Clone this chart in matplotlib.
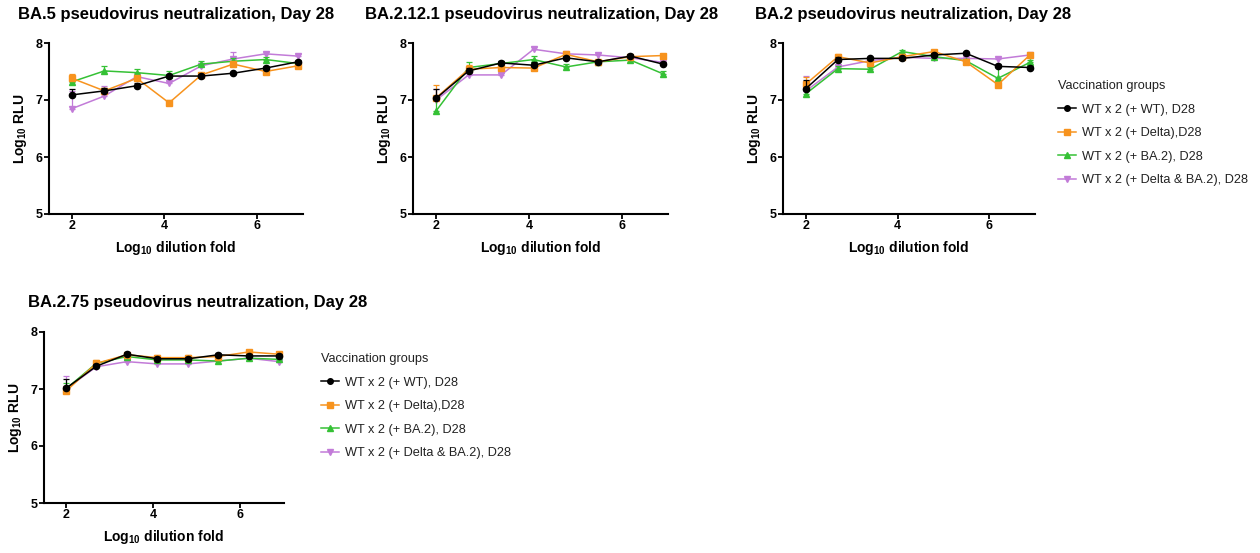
import matplotlib
matplotlib.use("Agg")
import matplotlib.pyplot as plt
from matplotlib.lines import Line2D
import numpy as np

plt.rcParams['font.family'] = ['Liberation Sans', 'DejaVu Sans']
plt.rcParams['mathtext.fontset'] = 'custom'
plt.rcParams['mathtext.rm'] = 'Liberation Sans'
plt.rcParams['mathtext.bf'] = 'Liberation Sans:bold'
plt.rcParams['mathtext.it'] = 'Liberation Sans:italic'

# dilution series (log10 fold), 5-fold steps from 1:100
dilution = [2.0, 2.7, 3.4, 4.1, 4.8, 5.49, 6.19, 6.89]

groups = ['WT x 2 (+ WT), D28', 'WT x 2 (+ Delta),D28',
          'WT x 2 (+ BA.2), D28', 'WT x 2 (+ Delta & BA.2), D28']
colors = ['#000000', '#F7931E', '#35C135', '#C27BD8']
markers = ['o', 's', '^', 'v']

# BA.5
ba5_wt = [7.09, 7.16, 7.25, 7.42, 7.42, 7.47, 7.56, 7.67]
ba5_delta = [7.38, 7.16, 7.38, 6.95, 7.44, 7.63, 7.50, 7.60]
ba5_ba2 = [7.32, 7.51, 7.48, 7.43, 7.63, 7.68, 7.71, 7.64]
ba5_delta_ba2 = [6.85, 7.07, 7.41, 7.29, 7.60, 7.72, 7.81, 7.77]
ba5_wt_err = [0.10, 0.05, 0.05, 0.04, 0.03, 0.03, 0.03, 0.03]
ba5_delta_err = [0.07, 0.05, 0.04, 0.05, 0.04, 0.04, 0.03, 0.03]
ba5_ba2_err = [0.05, 0.08, 0.06, 0.08, 0.05, 0.05, 0.04, 0.03]
ba5_delta_ba2_err = [0.30, 0.18, 0.05, 0.04, 0.05, 0.12, 0.04, 0.04]

# BA.2.12.1
ba2121_wt = [7.03, 7.51, 7.65, 7.61, 7.74, 7.67, 7.77, 7.63]
ba2121_delta = [7.04, 7.54, 7.57, 7.56, 7.80, 7.67, 7.76, 7.78]
ba2121_ba2 = [6.81, 7.57, 7.64, 7.71, 7.58, 7.67, 7.70, 7.46]
ba2121_delta_ba2 = [7.00, 7.44, 7.44, 7.89, 7.81, 7.79, 7.74, 7.66]
ba2121_wt_err = [0.17, 0.06, 0.04, 0.05, 0.04, 0.03, 0.04, 0.04]
ba2121_delta_err = [0.22, 0.08, 0.04, 0.04, 0.04, 0.03, 0.03, 0.03]
ba2121_ba2_err = [0.20, 0.10, 0.04, 0.07, 0.05, 0.03, 0.03, 0.05]
ba2121_delta_ba2_err = [0.20, 0.05, 0.03, 0.04, 0.03, 0.03, 0.03, 0.03]

# BA.2
ba2_wt = [7.20, 7.71, 7.73, 7.73, 7.79, 7.82, 7.59, 7.57]
ba2_delta = [7.28, 7.76, 7.65, 7.76, 7.85, 7.67, 7.27, 7.79]
ba2_ba2 = [7.11, 7.55, 7.54, 7.85, 7.76, 7.69, 7.38, 7.66]
ba2_delta_ba2 = [7.16, 7.58, 7.69, 7.75, 7.73, 7.73, 7.72, 7.79]
ba2_wt_err = [0.15, 0.04, 0.03, 0.03, 0.03, 0.03, 0.04, 0.03]
ba2_delta_err = [0.12, 0.05, 0.04, 0.04, 0.03, 0.03, 0.04, 0.03]
ba2_ba2_err = [0.10, 0.04, 0.04, 0.03, 0.03, 0.03, 0.20, 0.05]
ba2_delta_ba2_err = [0.26, 0.04, 0.03, 0.03, 0.03, 0.03, 0.04, 0.03]

# BA.2.75
ba275_wt = [7.01, 7.40, 7.61, 7.53, 7.53, 7.60, 7.58, 7.58]
ba275_delta = [6.96, 7.45, 7.60, 7.55, 7.55, 7.57, 7.65, 7.61]
ba275_ba2 = [7.00, 7.45, 7.57, 7.51, 7.51, 7.49, 7.54, 7.52]
ba275_delta_ba2 = [7.00, 7.39, 7.48, 7.44, 7.44, 7.49, 7.54, 7.48]
ba275_wt_err = [0.16, 0.04, 0.04, 0.04, 0.04, 0.03, 0.03, 0.03]
ba275_delta_err = [0.10, 0.05, 0.04, 0.04, 0.04, 0.03, 0.03, 0.03]
ba275_ba2_err = [0.10, 0.04, 0.03, 0.03, 0.03, 0.03, 0.03, 0.03]
ba275_delta_ba2_err = [0.22, 0.03, 0.03, 0.03, 0.03, 0.03, 0.03, 0.03]

W, H = 1260, 553
fig = plt.figure(figsize=(W / 100, H / 100), dpi=100)


def px_axes(left, top, width, height):
    return fig.add_axes([left / W, 1 - (top + height) / H, width / W, height / H])


def draw_panel(ax, series, errors, title, title_xy):
    # first group on top, like the original prism layout
    for i in range(3, -1, -1):
        y = np.array(series[i])
        e = np.array(errors[i])
        ax.errorbar(dilution, y, yerr=[np.zeros_like(e), e], color=colors[i],
                    marker=markers[i], markersize=4.5, linewidth=1.1,
                    elinewidth=0.9, capsize=2.5, capthick=0.9, zorder=10 - i)
    ax.set_xlim(1.5, 7.0)
    ax.set_ylim(5, 8)
    ax.set_xticks([2, 4, 6])
    ax.set_yticks([5, 6, 7, 8])
    for s in ['top', 'right']:
        ax.spines[s].set_visible(False)
    for s in ['left', 'bottom']:
        ax.spines[s].set_linewidth(1.5)
    ax.tick_params(direction='out', length=3.3, width=1.3, labelsize=9, pad=1.2)
    for lab in ax.get_xticklabels() + ax.get_yticklabels():
        lab.set_fontweight('bold')
    ax.set_xlabel(r'$\mathbf{Log_{10}}$ dilution fold', fontsize=10, fontweight='bold', labelpad=5)
    ax.set_ylabel(r'$\mathbf{Log_{10}}$ RLU', fontsize=10, fontweight='bold', labelpad=5)
    fig.text(title_xy[0] / W, 1 - title_xy[1] / H, title, fontsize=12,
             fontweight='bold', ha='left', va='center')


def add_legend(ax, left, top):
    handles = [Line2D([], [], color=c, marker=m, markersize=4, linewidth=1.1)
               for c, m in zip(colors, markers)]
    leg = ax.legend(handles, groups, title='Vaccination groups',
                    loc='upper left', bbox_to_anchor=(left / W, 1 - top / H),
                    bbox_transform=fig.transFigure, frameon=False, fontsize=9.2,
                    title_fontsize=9.2, borderpad=0, handlelength=1.35,
                    handletextpad=0.5, labelspacing=0.9, alignment='left')
    for t in leg.get_texts():
        t.set_color('#222222')
    leg.get_title().set_color('#222222')


ax1 = px_axes(49, 43, 254, 171)
draw_panel(ax1, [ba5_wt, ba5_delta, ba5_ba2, ba5_delta_ba2],
           [ba5_wt_err, ba5_delta_err, ba5_ba2_err, ba5_delta_ba2_err],
           'BA.5 pseudovirus neutralization, Day 28', (18, 15))

ax2 = px_axes(413, 43, 255, 171)
draw_panel(ax2, [ba2121_wt, ba2121_delta, ba2121_ba2, ba2121_delta_ba2],
           [ba2121_wt_err, ba2121_delta_err, ba2121_ba2_err, ba2121_delta_ba2_err],
           'BA.2.12.1 pseudovirus neutralization, Day 28', (365, 15))

ax3 = px_axes(783, 43, 252, 171)
draw_panel(ax3, [ba2_wt, ba2_delta, ba2_ba2, ba2_delta_ba2],
           [ba2_wt_err, ba2_delta_err, ba2_ba2_err, ba2_delta_ba2_err],
           'BA.2 pseudovirus neutralization, Day 28', (755, 15))
add_legend(ax3, 1052, 74)

ax4 = px_axes(44, 332, 240, 171)
draw_panel(ax4, [ba275_wt, ba275_delta, ba275_ba2, ba275_delta_ba2],
           [ba275_wt_err, ba275_delta_err, ba275_ba2_err, ba275_delta_ba2_err],
           'BA.2.75 pseudovirus neutralization, Day 28', (28, 302))
add_legend(ax4, 315, 347)

fig.savefig('out.png', dpi=100, facecolor='white')
